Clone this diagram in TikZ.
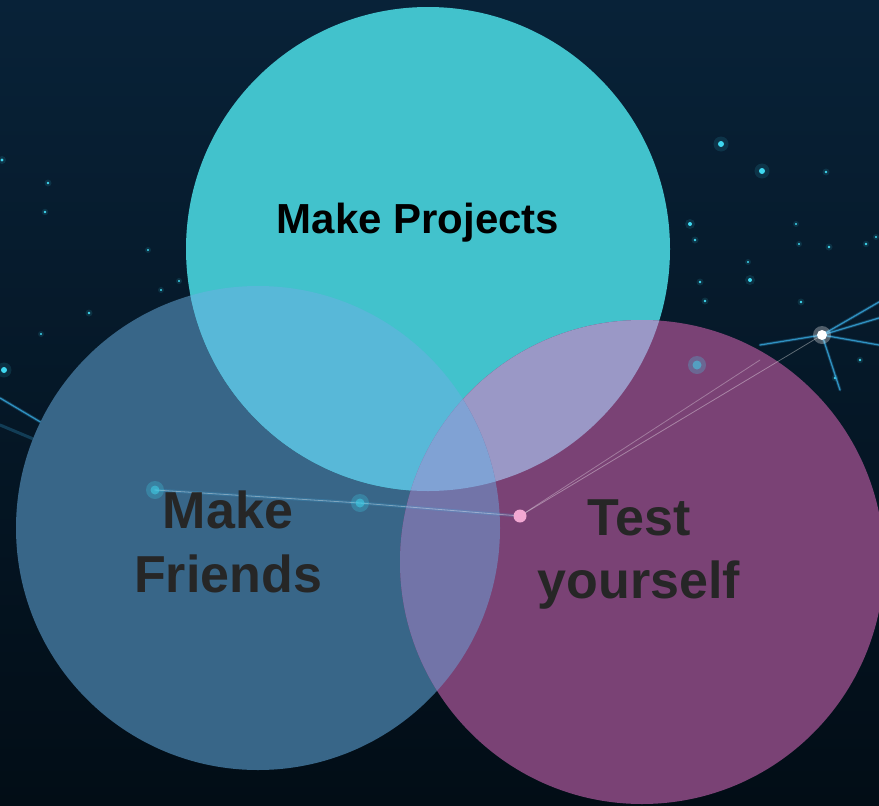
\documentclass[tikz,border=0pt]{standalone}
\usepackage{fontspec}
\setmainfont{Liberation Sans}
\definecolor{bgtop}{HTML}{082238}
\definecolor{bgmid}{HTML}{0A3049}
\definecolor{bgbot}{HTML}{020D16}
\definecolor{ctop}{HTML}{42C2CC}
\definecolor{cleft}{HTML}{386688}
\definecolor{cright}{HTML}{7A4275}
\definecolor{ctl}{HTML}{58B8D8}
\definecolor{ctr}{HTML}{9A98C6}
\definecolor{clr}{HTML}{7274A8}
\definecolor{call}{HTML}{80A2D4}
\definecolor{startint}{HTML}{3FD8F0}
\definecolor{raycol}{HTML}{3AB0E8}
\definecolor{txtdark}{HTML}{262626}
\definecolor{pinkdot}{HTML}{F2A8D2}
\tikzset{
  stardot/.style={fill=startint},
  starglow/.style={fill=startint, opacity=0.12},
  ray/.style={draw=raycol, line width=1.2pt, opacity=0.75, line cap=round},
  softray/.style={draw=raycol, line width=3pt, opacity=0.25, line cap=round},
  lbl/.style={font=\bfseries\fontsize{52}{60}\selectfont, text=txtdark, anchor=base, inner sep=0pt},
}
\begin{document}
\begin{tikzpicture}[x=1pt,y=-1pt]
\useasboundingbox (0,0) rectangle (879,806);
% background
\shade[top color=bgtop, middle color=bgmid, bottom color=bgbot] (0,0) rectangle (879,806);
% background stars
\foreach \sx/\sy/\sr in {2/160/1.6, 48/183/1.4, 45/212/1.3, 148/250/1.2, 161/290/1.2,
  41/334/1.2, 89/313/1.4, 179/281/1.2, 4/370/3,
  721/144/3, 762/171/3, 826/172/1.4, 690/224/2, 695/240/1.4, 796/224/1.2, 799/244/1.2,
  748/262/1.2, 750/280/2, 700/282/1.4, 705/301/1.4, 801/302/1.4, 829/247/1.4, 866/244/1.3,
  876/237/1.2, 860/360/1.3, 835/378/1.3}{
  \fill[starglow] (\sx,\sy) circle (\sr*2.5);
  \fill[stardot] (\sx,\sy) circle (\sr);
}
% rays around the bright node
\coordinate (hub) at (822,335);
\coordinate (r1) at (879,302);
\coordinate (r2) at (879,318);
\coordinate (r3) at (879,345);
\coordinate (r4) at (760,345);
\coordinate (r5) at (840,390);
\coordinate (l0) at (0,398);
\coordinate (l1) at (0,425);
\coordinate (l2) at (155,490);
\foreach \rr in {r1,r2,r3,r4,r5}{
  \draw[softray] (hub) -- (\rr);
  \draw[ray] (hub) -- (\rr);
}
\draw[softray] (l0) -- (l2);
\draw[ray] (l0) -- (l2);
\draw[softray] (l1) -- (l2);
% circles
\coordinate (P) at (428,249);
\coordinate (F) at (258,528);
\coordinate (T) at (642,562);
\fill[cleft] (F) circle (242);
\fill[ctop] (P) circle (242);
\fill[cright] (T) circle (242);
\begin{scope}
  \clip (P) circle (242);
  \fill[ctl] (F) circle (242);
\end{scope}
\begin{scope}
  \clip (P) circle (242);
  \fill[ctr] (T) circle (242);
\end{scope}
\begin{scope}
  \clip (F) circle (242);
  \fill[clr] (T) circle (242);
\end{scope}
\begin{scope}
  \clip (P) circle (242);
  \clip (F) circle (242);
  \fill[call] (T) circle (242);
\end{scope}
% light streaks seen through circles
\coordinate (pk) at (520,516);
\coordinate (g1) at (360,503);
\coordinate (g2) at (697,365);
\coordinate (m1) at (760,360);
\draw[softray, opacity=0.2] (l2) -- (g1) -- (pk);
\draw[ray, draw=white, opacity=0.35, line width=0.8pt] (l2) -- (g1) -- (pk);
\draw[ray, draw=white, opacity=0.35, line width=0.8pt] (pk) -- (hub);
\draw[ray, draw=white, opacity=0.3, line width=0.8pt] (pk) -- (m1);
\foreach \gg in {l2,g1,g2}{
  \fill[fill=startint, opacity=0.25] (\gg) circle (9);
  \fill[fill=startint, opacity=0.5] (\gg) circle (4.5);
}
\fill[white, opacity=0.3] (hub) circle (9);
\fill[white] (hub) circle (5);
\fill[pinkdot] (pk) circle (6.5);
% labels
\node[font=\bfseries\fontsize{42}{48}\selectfont, text=black, anchor=base, inner sep=0pt] (proj) at (418,233) {Make Projects};
\node[lbl] (fr1) at (228,528) {Make};
\node[lbl] (fr2) at (228,592) {Friends};
\node[lbl] (ts1) at (639,535) {Test};
\node[lbl] (ts2) at (639,598) {yourself};
\end{tikzpicture}
\end{document}
